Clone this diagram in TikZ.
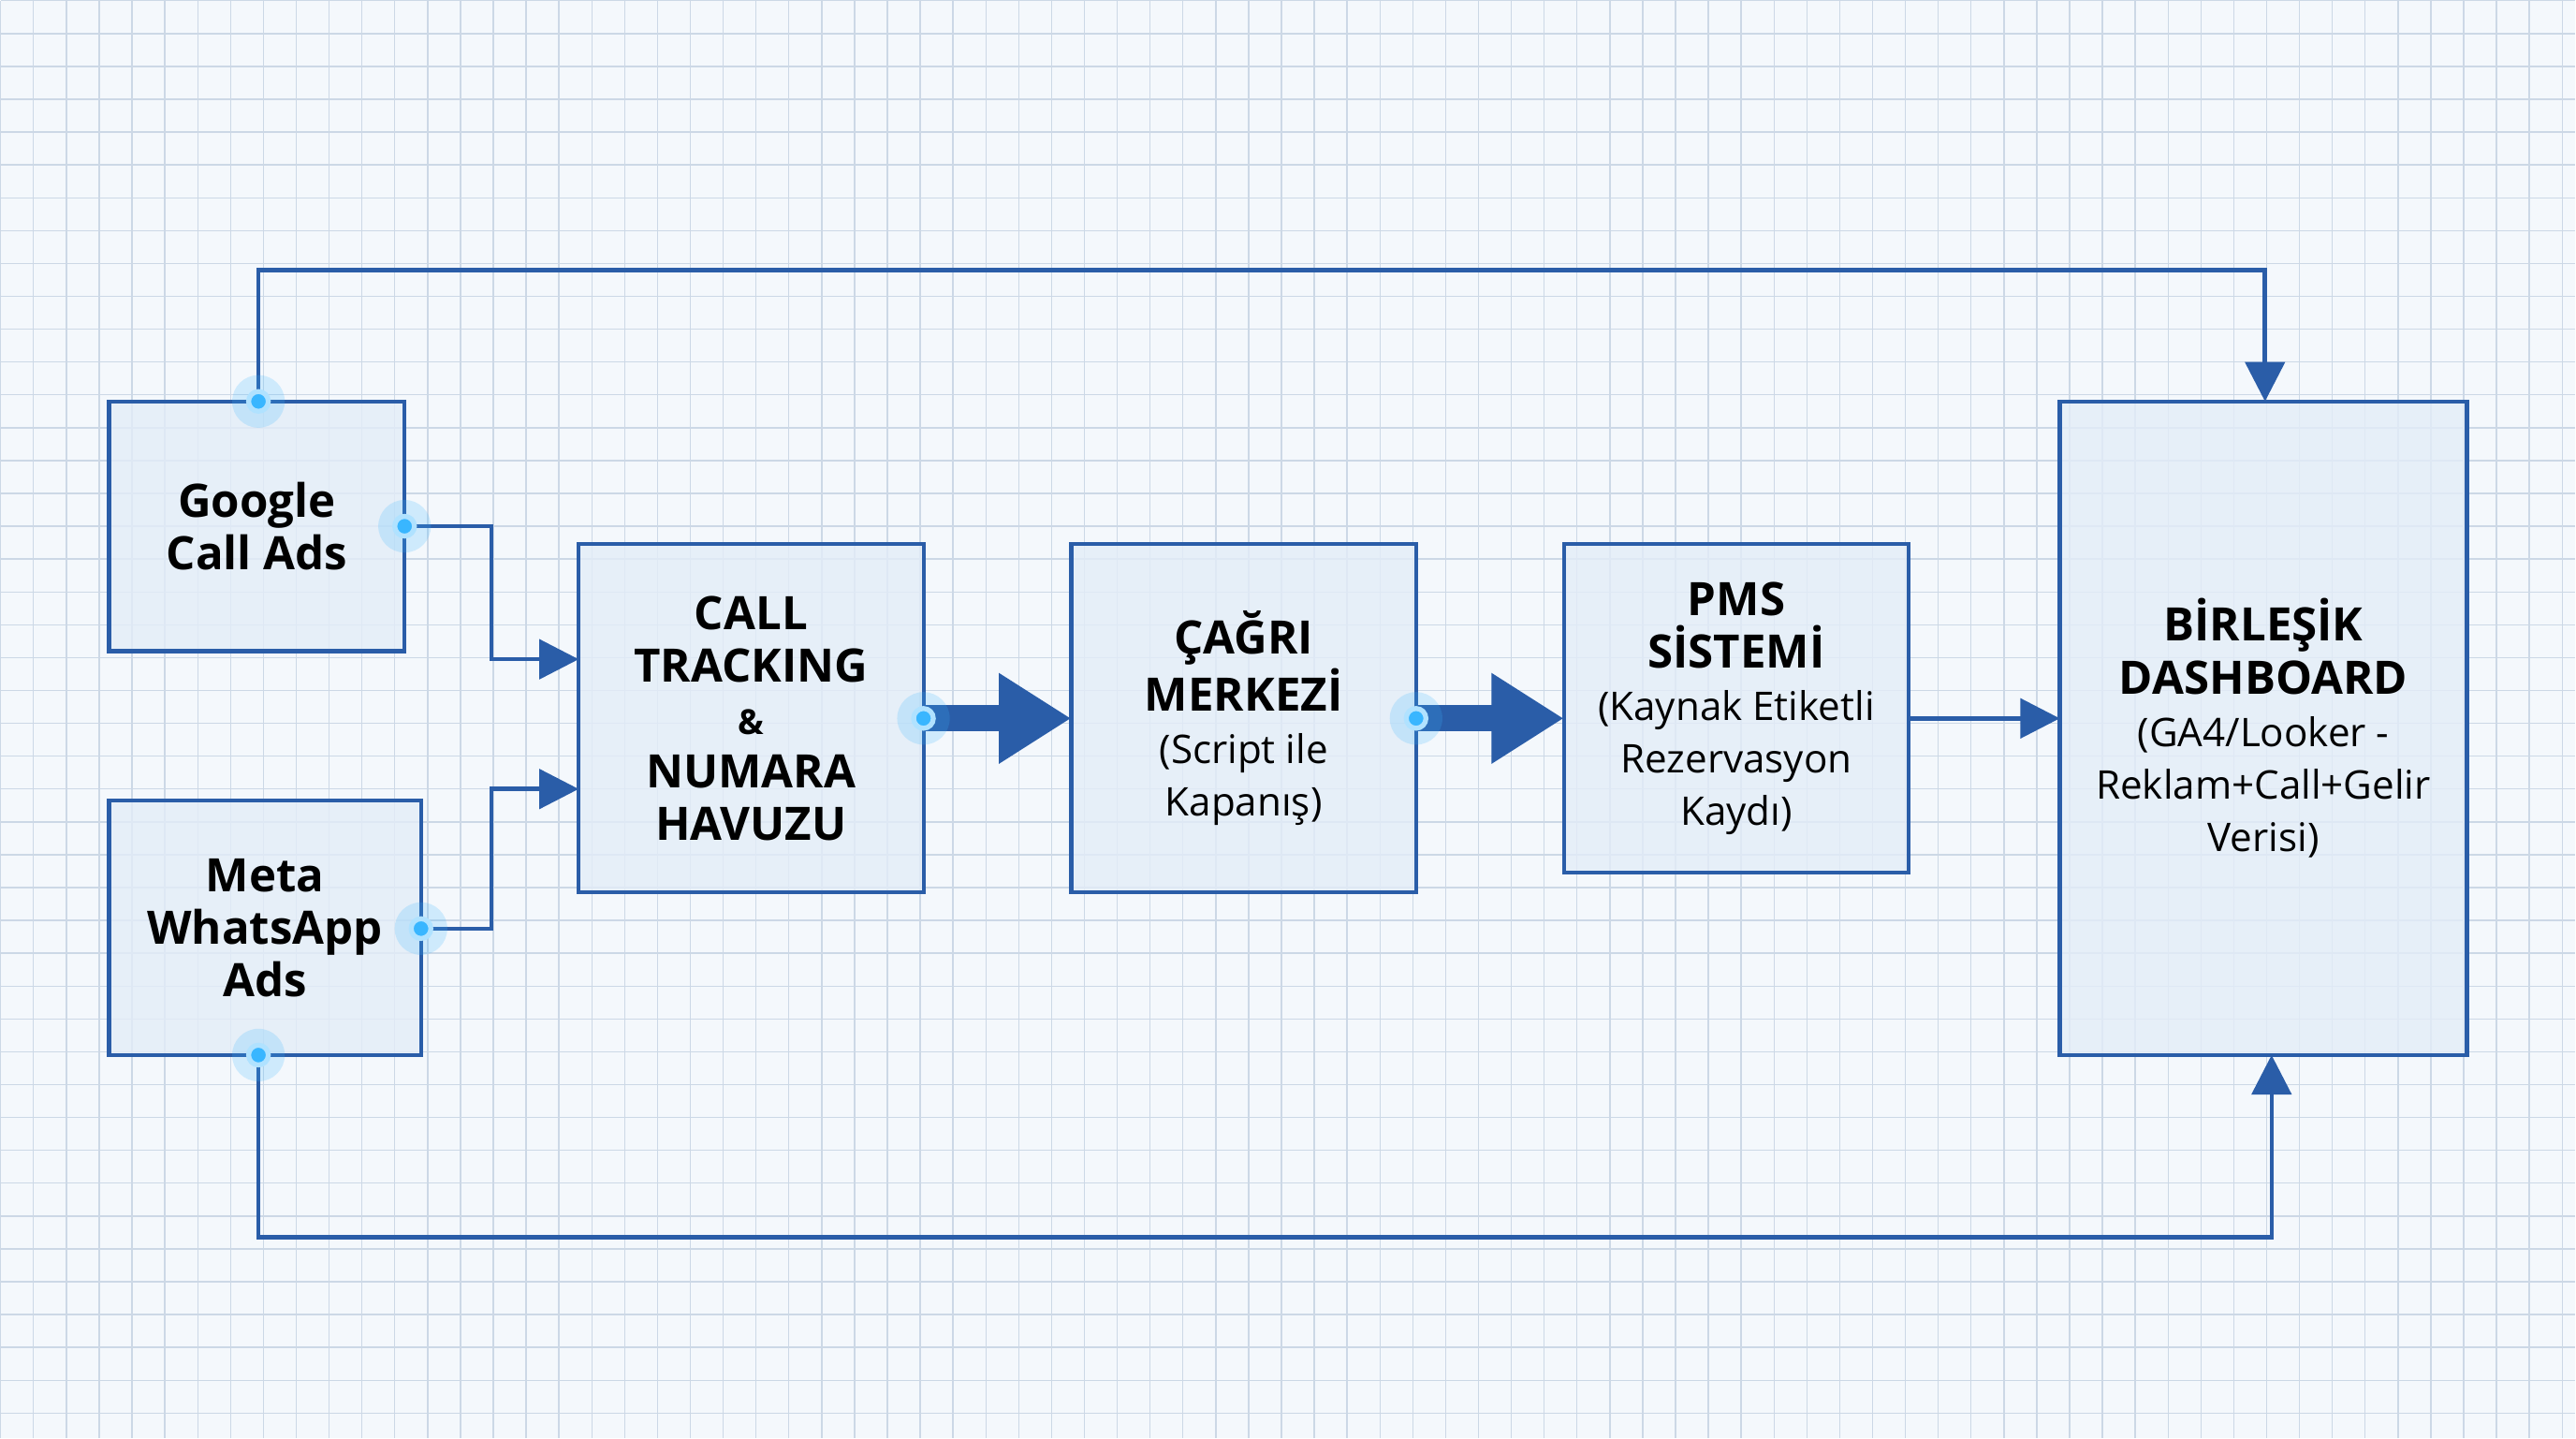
\documentclass[tikz,border=0pt]{standalone}
\usepackage{fontspec}
\setmainfont{Open Sans}
\usetikzlibrary{arrows.meta}
\definecolor{bline}{HTML}{2A5DA8}
\definecolor{bfill}{HTML}{E3EDF8}
\definecolor{bg}{HTML}{F4F8FC}
\definecolor{gridc}{HTML}{CCD8E6}
\definecolor{glow}{HTML}{39B6FF}
\newcommand{\subtxt}{\fontsize{12}{15}\selectfont\mdseries}
\newcommand{\smallamp}{\fontsize{10.5}{12}\selectfont}
\begin{document}
\begin{tikzpicture}[x=0.01755cm,y=-0.01755cm,
  box/.style={draw=bline,line width=1.2pt,fill=bfill,fill opacity=0.8,text opacity=1,inner sep=0pt,align=center,font=\fontsize{14}{16}\selectfont\bfseries},
  con/.style={draw=bline,line width=1.3pt},
  thin/.style={con,-{Triangle[length=12pt,width=12pt]}},
  thick/.style={draw=bline,line width=8pt,-{Triangle[length=22pt,width=26pt]}},
  dot/.style={circle,fill=glow,inner sep=0pt,minimum size=6pt,draw=glow!40,line width=1.5pt}]
\fill[bg] (0,0) rectangle (1568,875);
\foreach \i in {0,20,...,1560} \draw[gridc,line width=0.4pt] (\i,0) -- (\i,875);
\foreach \j in {0,20,...,860} \draw[gridc,line width=0.4pt] (0,\j) -- (1568,\j);
\useasboundingbox (0,0) rectangle (1568,875);
% boxes
\node[box,minimum width=3.159cm,minimum height=2.668cm] (g) at (156,320) {Google\\Call Ads};
\node[box,minimum width=3.335cm,minimum height=2.720cm] (m) at (161,564.5) {Meta\\WhatsApp\\Ads};
\node[box,minimum width=3.686cm,minimum height=3.721cm] (ct) at (457,437) {CALL\\TRACKING\\\smallamp\&\\NUMARA\\HAVUZU};
\node[box,minimum width=3.686cm,minimum height=3.721cm] (cz) at (757,437) {ÇAĞRI\\MERKEZİ\\\subtxt (Script ile\\\subtxt Kapanış)};
\node[box,minimum width=3.686cm,minimum height=3.510cm] (pms) at (1057,431) {PMS\\SİSTEMİ\\\subtxt (Kaynak Etiketli\\\subtxt Rezervasyon\\\subtxt Kaydı)};
\node[box,minimum width=4.352cm,minimum height=6.985cm] (d) at (1378,443) {BİRLEŞİK\\DASHBOARD\\\subtxt (GA4/Looker -\\\subtxt Reklam+Call+Gelir\\\subtxt Verisi)};
% coordinates
\coordinate (gt) at (157,244);
\coordinate (gr) at (246,320);
\coordinate (mr) at (256,565);
\coordinate (mb) at (157,642);
\coordinate (dt) at (1379,244);
\coordinate (db) at (1383,642);
\coordinate (ct1) at (352,401);
\coordinate (ct2) at (352,480);
\coordinate (ctr) at (562,437);
\coordinate (czl) at (652,437);
\coordinate (czr) at (862,437);
\coordinate (pl) at (952,437);
\coordinate (pr) at (1162,437);
\coordinate (dl) at (1254,437);
% connectors
\draw[thin] (gt) -- (157,164) -| (dt);
\draw[thin] (gr) -- (299,320) |- (ct1);
\draw[thin] (mr) -- (299,565) |- (ct2);
\draw[thin] (mb) -- (157,753) -| (db);
\draw[thick] (ctr) -- (czl);
\draw[thick] (czr) -- (pl);
\draw[thin] (pr) -- (dl);
% glow dots
\foreach \p in {gt,gr,mr,mb,ctr,czr}{
  \fill[glow,opacity=0.2] (\p) circle (8pt);
  \node[dot] at (\p) {};}
\end{tikzpicture}
\end{document}
